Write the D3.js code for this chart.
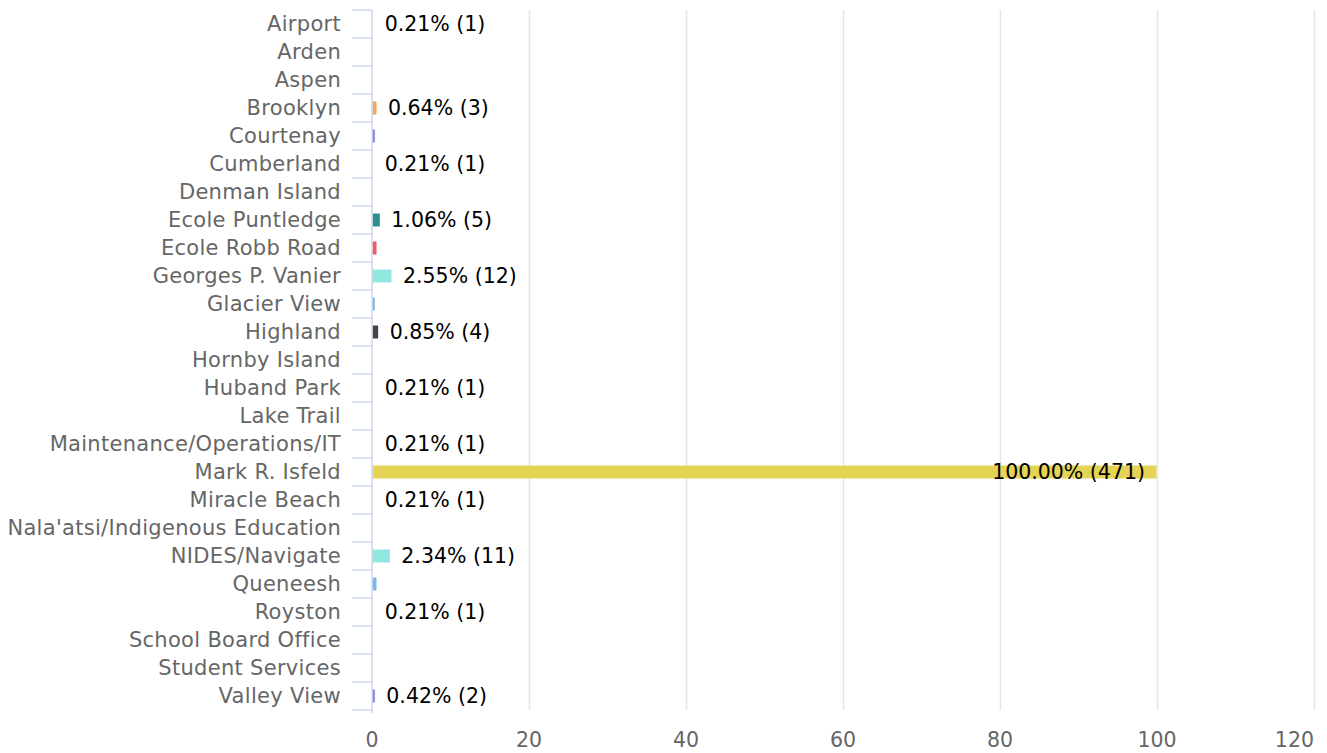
<!DOCTYPE html>
<html>
<head>
<meta charset="utf-8">
<script src="https://cdn.jsdelivr.net/npm/d3@7"></script>
<style>
  body { margin: 0; background: #fff; }
  svg text { font-family: "DejaVu Sans", Verdana, sans-serif; }
</style>
</head>
<body>
<div id="chart"></div>
<script>
// categories, top to bottom
const schools = [
  "Airport", "Arden", "Aspen", "Brooklyn", "Courtenay", "Cumberland",
  "Denman Island", "Ecole Puntledge", "Ecole Robb Road", "Georges P. Vanier",
  "Glacier View", "Highland", "Hornby Island", "Huband Park", "Lake Trail",
  "Maintenance/Operations/IT", "Mark R. Isfeld", "Miracle Beach",
  "Nala'atsi/Indigenous Education", "NIDES/Navigate", "Queneesh", "Royston",
  "School Board Office", "Student Services", "Valley View"
]
// counts drawn as bars (0 = no visible bar)
const barCounts = [0, 0, 0, 3, 2, 0, 0, 5, 3, 12, 2, 4, 0, 0, 0, 0, 471, 0, 0, 11, 3, 0, 0, 0, 2]
// counts shown as labels (null = no label)
const labelCounts = [1, null, null, 3, null, 1, null, 5, null, 12, null, 4, null, 1, null, 1, 471, 1, null, 11, null, 1, null, null, 2]
const total = 471
const xTicks = [0, 20, 40, 60, 80, 100, 120]
const palette = ["#7cb5ec", "#434348", "#90ed7d", "#f7a35c", "#8085e9",
                 "#f15c80", "#e4d354", "#2b908f", "#f45b5b", "#91e8e1"]

const width = 1327, height = 753
const margin = {top: 10, right: 13, bottom: 43, left: 372}

let svg = d3.select("#chart").append("svg")
    .attr("width", width)
    .attr("height", height)

let x = d3.scaleLinear().domain([0, 120]).range([margin.left, width - margin.right])
let y = d3.scaleBand().domain(schools).range([margin.top, height - margin.bottom])

let pct = c => c / total * 100

// vertical grid
svg.append("g")
    .selectAll("line")
    .data(xTicks.filter(t => t > 0))
    .join("line")
    .attr("x1", d => Math.round(x(d)) + 0.5)
    .attr("x2", d => Math.round(x(d)) + 0.5)
    .attr("y1", margin.top)
    .attr("y2", height - margin.bottom)
    .attr("stroke", "#e6e6e6")
    .attr("stroke-width", 1.5)

// bars
const barH = 13
svg.append("g")
    .selectAll("rect")
    .data(schools)
    .join("rect")
    .attr("x", x(0) + 0.5)
    .attr("y", d => y(d) + y.bandwidth() / 2 - barH / 2)
    .attr("width", (d, i) => Math.max(0, x(pct(barCounts[i])) - x(0) - 1))
    .attr("height", barH)
    .attr("fill", (d, i) => palette[i % palette.length])

// y axis: line and ticks at band edges
let yAxis = svg.append("g").attr("stroke", "#ccd6eb").attr("stroke-width", 1.5)
yAxis.append("line")
    .attr("x1", x(0)).attr("x2", x(0))
    .attr("y1", margin.top).attr("y2", height - margin.bottom + 3)
yAxis.selectAll("line.tick")
    .data(schools.map(s => y(s)).concat([y(schools[schools.length - 1]) + y.bandwidth()]))
    .join("line")
    .attr("class", "tick")
    .attr("x1", x(0) - 20).attr("x2", x(0))
    .attr("y1", d => d).attr("y2", d => d)

// category labels
svg.append("g")
    .selectAll("text")
    .data(schools)
    .join("text")
    .attr("x", x(0) - 31)
    .attr("y", d => y(d) + y.bandwidth() / 2)
    .attr("dy", "0.35em")
    .attr("text-anchor", "end")
    .attr("fill", "#666")
    .style("font-size", "21px")
    .style("letter-spacing", "0.3px")
    .text(d => d)

// x tick labels (last one kept inside the edge)
svg.append("g")
    .selectAll("text")
    .data(xTicks)
    .join("text")
    .attr("x", d => x(d))
    .attr("y", height - 6)
    .attr("text-anchor", (d, i) => i === xTicks.length - 1 ? "end" : "middle")
    .attr("fill", "#666")
    .style("font-size", "20.5px")
    .text(d => d)

// data labels
svg.append("g")
    .selectAll("text")
    .data(schools.map((s, i) => ({s, c: labelCounts[i]})).filter(d => d.c != null))
    .join("text")
    .attr("x", d => d.c === total ? x(pct(d.c)) - 12 : x(pct(d.c)) + 11)
    .attr("y", d => y(d.s) + y.bandwidth() / 2)
    .attr("dy", "0.35em")
    .attr("text-anchor", d => d.c === total ? "end" : "start")
    .attr("fill", "#000")
    .style("font-size", "20.5px")
    .text(d => pct(d.c).toFixed(2) + "% (" + d.c + ")")
</script>
</body>
</html>
